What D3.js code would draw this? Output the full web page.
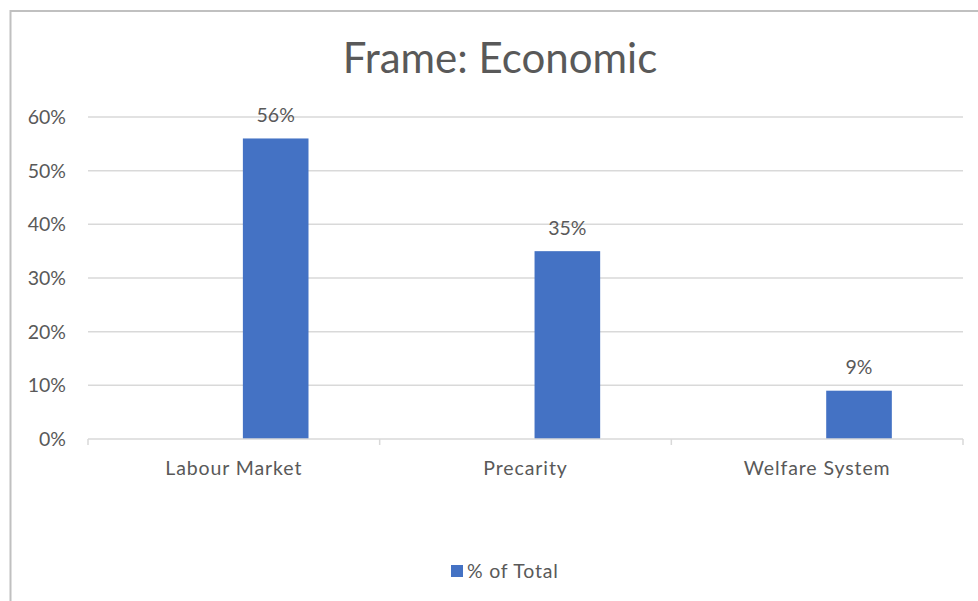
<!DOCTYPE html>
<html>
<head>
<meta charset="utf-8">
<script src="https://cdn.jsdelivr.net/npm/d3@7"></script>
<style>
  html, body { margin: 0; padding: 0; background: #fff; }
  svg { display: block; }
  text { font-family: Lato, "Open Sans", sans-serif; fill: #595959; }
</style>
</head>
<body>
<svg id="chart" width="978" height="601"></svg>
<script>
// Share of the economic frame by sub-topic
const categories = ["Labour Market", "Precarity", "Welfare System"];
const shareOfTotal = [0.56, 0.35, 0.09];
const valueLabels = ["56%", "35%", "9%"];
const yTicks = [0, 0.1, 0.2, 0.3, 0.4, 0.5, 0.6];
const chartTitle = "Frame: Economic";
const seriesName = "% of Total";

const W = 978, H = 601;
const margin = { left: 88, right: 15, top: 117, bottom: 162 };
const barColor = "#4472c4";
const gridColor = "#d9d9d9";

const svg = d3.select("#chart");

// outer chart frame
svg.append("rect")
  .attr("x", 10.5).attr("y", 11)
  .attr("width", W + 10).attr("height", H + 10)
  .attr("fill", "none").attr("stroke", "#c0c0c0").attr("stroke-width", 2);

const x = d3.scaleBand()
  .domain(categories)
  .range([margin.left, W - margin.right])
  .padding(0);

const y = d3.scaleLinear()
  .domain([0, 0.6])
  .range([H - margin.bottom, margin.top]);

// horizontal gridlines
svg.append("g")
  .selectAll("line")
  .data(yTicks.filter(t => t > 0))
  .join("line")
  .attr("x1", x.range()[0]).attr("x2", x.range()[1])
  .attr("y1", d => y(d)).attr("y2", d => y(d))
  .attr("stroke", gridColor).attr("stroke-width", 1.5);

// y axis labels
const yAxis = d3.axisLeft(y)
  .tickValues(yTicks)
  .tickFormat(d3.format(".0%"))
  .tickSize(0)
  .tickPadding(22);
const gy = svg.append("g")
  .attr("transform", `translate(${margin.left},0)`)
  .call(yAxis);
gy.select(".domain").remove();
gy.selectAll("text")
  .attr("font-size", 19.5)
  .attr("font-family", "Lato, sans-serif")
  .attr("fill", "#595959")
  .attr("dy", "0.34em");

// bars: the series sits just right of each category's centre
const barW = x.bandwidth() * 0.225;
const barOffset = x.bandwidth() * 0.031;
const barX = c => x(c) + x.bandwidth() / 2 + barOffset;

svg.append("g")
  .selectAll("rect")
  .data(categories.map((c, i) => ({ c, v: shareOfTotal[i], label: valueLabels[i] })))
  .join("rect")
  .attr("x", d => barX(d.c))
  .attr("y", d => y(d.v))
  .attr("width", barW)
  .attr("height", d => y(0) - y(d.v))
  .attr("fill", barColor);

// value labels above bars
svg.append("g")
  .selectAll("text")
  .data(categories.map((c, i) => ({ c, v: shareOfTotal[i], label: valueLabels[i] })))
  .join("text")
  .attr("x", d => barX(d.c) + barW / 2)
  .attr("y", d => y(d.v) - 23)
  .attr("dy", "0.34em")
  .attr("text-anchor", "middle")
  .attr("font-size", 19.5)
  .text(d => d.label);

// category axis
const xAxis = d3.axisBottom(x).tickSize(0).tickPadding(22);
const gx = svg.append("g")
  .attr("transform", `translate(0,${y(0)})`)
  .call(xAxis);
gx.select(".domain")
  .attr("stroke", gridColor).attr("stroke-width", 1.5)
  .attr("d", `M${x.range()[0]},0H${x.range()[1]}`);
gx.selectAll("text")
  .attr("font-size", 19.5)
  .attr("font-family", "Lato, sans-serif")
  .attr("fill", "#595959")
  .attr("letter-spacing", 0.9)
  .attr("dy", "0.71em");

// tick marks at category boundaries
const boundaries = categories.map(c => x(c)).concat([x.range()[1]]);
gx.append("g")
  .selectAll("line")
  .data(boundaries)
  .join("line")
  .attr("x1", d => d).attr("x2", d => d)
  .attr("y1", 0).attr("y2", 6)
  .attr("stroke", gridColor).attr("stroke-width", 1.5);

// title
svg.append("text")
  .attr("x", 500)
  .attr("y", 73)
  .attr("text-anchor", "middle")
  .attr("font-size", 42)
  .text(chartTitle);

// legend
const lg = svg.append("g").attr("transform", "translate(451,565)");
lg.append("rect").attr("width", 12).attr("height", 12).attr("fill", barColor);
lg.append("text")
  .attr("x", 16).attr("y", 6)
  .attr("dy", "0.36em")
  .attr("font-size", 19.5)
  .attr("letter-spacing", 0.8)
  .text(seriesName);
</script>
</body>
</html>
